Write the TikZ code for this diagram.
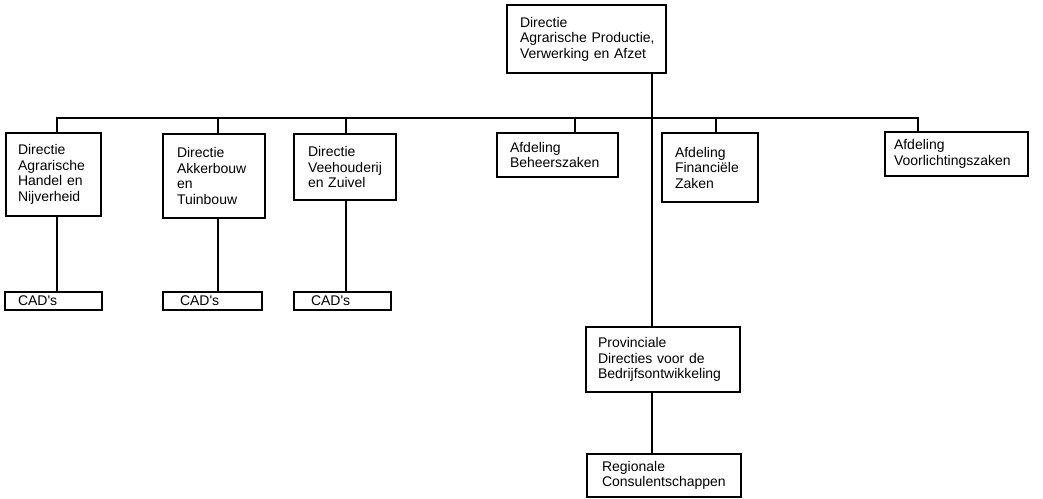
\documentclass[tikz,border=0pt]{standalone}
\usepackage{fontspec}
\setmainfont{Liberation Sans}
\newcommand\orgfont{\fontsize{14}{15.5}\selectfont\hyphenpenalty=10000 \exhyphenpenalty=10000 }
\tikzset{
  orgbox/.style={draw, rectangle, line width=1.6pt, anchor=north west,
    align=left, outer sep=0pt, inner ysep=0pt, font=\orgfont},
  orgline/.style={line width=1.6pt, line cap=rect}
}
\begin{document}
\begin{tikzpicture}[x=1pt, y=-1pt]
\useasboundingbox (0,0) rectangle (1043,498);

% head of the organisation
\node[orgbox, minimum width=159pt, minimum height=68pt, text width=133pt, inner xsep=13pt]
  (top) at (507,5) {Directie\\Agrarische~Productie,\\Verwerking~en~Afzet};

% directies and afdelingen on the first level
\node[orgbox, minimum width=95pt, minimum height=83pt, text width=71pt, inner xsep=12pt]
  (b1) at (6,133) {Directie\\Agrarische\\Handel~en\\Nijverheid};
\node[orgbox, minimum width=102pt, minimum height=84pt, text width=74pt, inner xsep=14pt]
  (b2) at (163,134) {Directie\\Akkerbouw\\en\\Tuinbouw};
\node[orgbox, minimum width=102pt, minimum height=66pt, text width=74pt, inner xsep=14pt]
  (b3) at (294,134) {Directie\\Veehouderij\\en~Zuivel};
\node[orgbox, minimum width=121pt, minimum height=44pt, text width=95pt, inner xsep=13pt]
  (bh) at (497,133) {Afdeling\\Beheerszaken};
\node[orgbox, minimum width=96pt, minimum height=69pt, text width=70pt, inner xsep=13pt]
  (fz) at (662,133) {Afdeling\\Financiële\\Zaken};
\node[orgbox, minimum width=143pt, minimum height=44pt, text width=125pt, inner xsep=9pt]
  (vz) at (885,132) {Afdeling\\Voorlichtingszaken};

% CAD's below the three directies
\node[orgbox, minimum width=97pt, minimum height=18pt, text width=71pt, inner xsep=13pt]
  (cad1) at (5,292) {CAD\textquotesingle s};
\node[orgbox, minimum width=99pt, minimum height=18pt, text width=65pt, inner xsep=17pt]
  (cad2) at (163,292) {CAD\textquotesingle s};
\node[orgbox, minimum width=97pt, minimum height=18pt, text width=63pt, inner xsep=17pt]
  (cad3) at (294,292) {CAD\textquotesingle s};

% regional line
\node[orgbox, minimum width=154pt, minimum height=65pt, text width=130pt, inner xsep=12pt]
  (prov) at (586,327) {Provinciale\\Directies~voor~de\\Bedrijfsontwikkeling};
\node[orgbox, minimum width=154pt, minimum height=43pt, text width=124pt, inner xsep=15pt]
  (reg) at (587,454) {Regionale\\Consulentschappen};

% junctions on the horizontal bus
\coordinate (j1) at (57,118);
\coordinate (j2) at (218,118);
\coordinate (j3) at (346,118);
\coordinate (j4) at (575,118);
\coordinate (m)  at (652,118);
\coordinate (j5) at (716,118);
\coordinate (j6) at (918,118);

% bus and drops
\draw[orgline] (j1 |- b1.north) -- (j1) -- (j6) -- (j6 |- vz.north);
\draw[orgline] (j2) -- (j2 |- b2.north);
\draw[orgline] (j3) -- (j3 |- b3.north);
\draw[orgline] (j4) -- (j4 |- bh.north);
\draw[orgline] (j5) -- (j5 |- fz.north);

% main vertical line from the head down to the provinces
\draw[orgline] (m |- top.south) -- (m |- prov.north);
\draw[orgline] (m |- prov.south) -- (m |- reg.north);

% directies to their CAD's
\draw[orgline] (j1 |- b1.south) -- (j1 |- cad1.north);
\draw[orgline] (j2 |- b2.south) -- (j2 |- cad2.north);
\draw[orgline] (j3 |- b3.south) -- (j3 |- cad3.north);
\end{tikzpicture}
\end{document}
